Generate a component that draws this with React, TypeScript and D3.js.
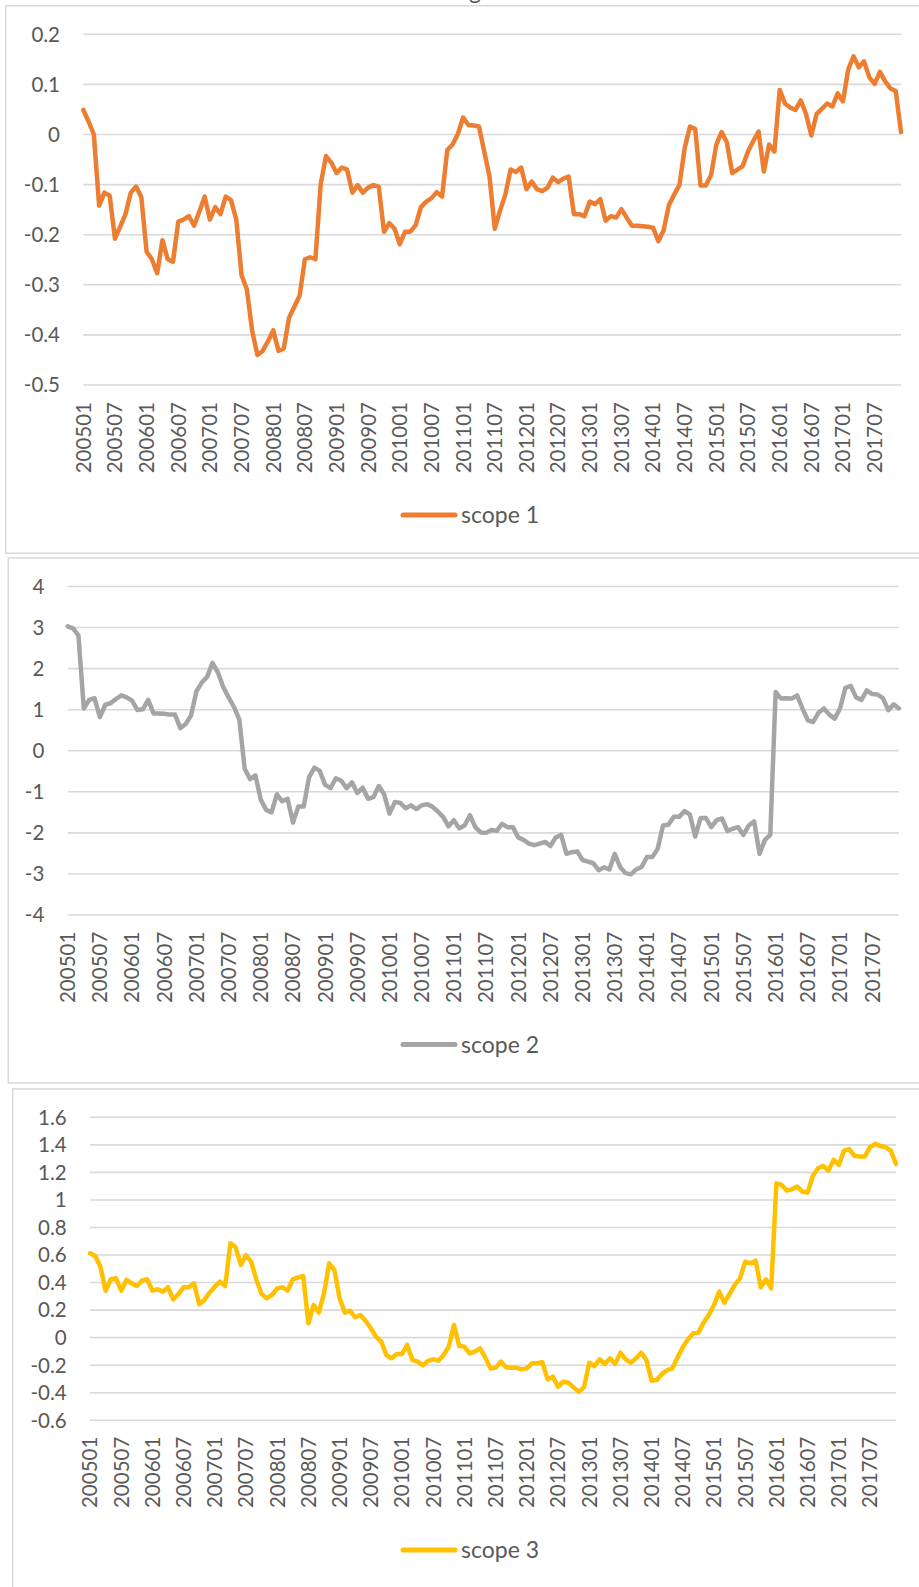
import React from "react";
import * as d3 from "d3";

const width = 919;
const height = 1587;

// categories: monthly, 200501 .. 201712
const months: string[] = [];
d3.range(2005, 2018).forEach((y) => {
  d3.range(1, 13).forEach((m) => months.push(`${y}${m < 10 ? "0" + m : m}`));
});

const tickLabels = [
  "200501", "200507", "200601", "200607", "200701", "200707", "200801", "200807",
  "200901", "200907", "201001", "201007", "201101", "201107", "201201", "201207",
  "201301", "201307", "201401", "201407", "201501", "201507", "201601", "201607",
  "201701", "201707",
];

const scope1 = [
  0.049, 0.026, 0.0, -0.142, -0.116, -0.122, -0.208, -0.184, -0.159, -0.116,
  -0.104, -0.125, -0.234, -0.249, -0.277, -0.211, -0.249, -0.254, -0.174, -0.17,
  -0.163, -0.182, -0.154, -0.124, -0.17, -0.145, -0.159, -0.124, -0.131, -0.17,
  -0.281, -0.309, -0.391, -0.44, -0.432, -0.413, -0.391, -0.432, -0.427, -0.366,
  -0.344, -0.322, -0.249, -0.245, -0.249, -0.099, -0.043, -0.056, -0.077, -0.066,
  -0.07, -0.116, -0.101, -0.116, -0.106, -0.101, -0.104, -0.194, -0.177, -0.188,
  -0.219, -0.194, -0.194, -0.181, -0.145, -0.134, -0.127, -0.115, -0.124, -0.031,
  -0.02, 0.001, 0.034, 0.019, 0.018, 0.016, -0.034, -0.084, -0.188, -0.152,
  -0.12, -0.07, -0.075, -0.066, -0.109, -0.094, -0.109, -0.113, -0.106, -0.086,
  -0.095, -0.088, -0.084, -0.159, -0.159, -0.163, -0.134, -0.139, -0.129, -0.172,
  -0.163, -0.166, -0.149, -0.166, -0.182, -0.182, -0.183, -0.184, -0.186, -0.213,
  -0.191, -0.141, -0.12, -0.101, -0.027, 0.016, 0.011, -0.102, -0.102, -0.081,
  -0.02, 0.005, -0.016, -0.077, -0.07, -0.063, -0.034, -0.013, 0.006, -0.074,
  -0.02, -0.034, 0.089, 0.062, 0.054, 0.049, 0.068, 0.041, -0.002, 0.041,
  0.051, 0.062, 0.056, 0.082, 0.066, 0.13, 0.156, 0.134, 0.146, 0.114,
  0.101, 0.125, 0.106, 0.092, 0.087, 0.005,
];

const scope2 = [
  3.03, 2.98, 2.81, 1.03, 1.24, 1.28, 0.82, 1.12, 1.16, 1.26,
  1.35, 1.3, 1.22, 0.99, 1.01, 1.24, 0.91, 0.91, 0.9, 0.88,
  0.88, 0.55, 0.65, 0.86, 1.45, 1.66, 1.8, 2.14, 1.91, 1.55,
  1.3, 1.07, 0.76, -0.44, -0.69, -0.6, -1.19, -1.44, -1.5, -1.06,
  -1.23, -1.17, -1.75, -1.36, -1.36, -0.65, -0.41, -0.49, -0.83, -0.91,
  -0.67, -0.73, -0.91, -0.77, -1.03, -0.9, -1.17, -1.13, -0.86, -1.06,
  -1.53, -1.25, -1.27, -1.4, -1.33, -1.42, -1.33, -1.3, -1.36, -1.48,
  -1.61, -1.84, -1.69, -1.89, -1.82, -1.57, -1.86, -1.99, -2.0, -1.93,
  -1.95, -1.78, -1.86, -1.86, -2.11, -2.17, -2.26, -2.3, -2.26, -2.22,
  -2.32, -2.11, -2.05, -2.51, -2.47, -2.45, -2.66, -2.7, -2.74, -2.91,
  -2.84, -2.89, -2.51, -2.83, -2.98, -3.01, -2.89, -2.83, -2.59, -2.59,
  -2.39, -1.82, -1.8, -1.61, -1.61, -1.47, -1.55, -2.09, -1.64, -1.64,
  -1.86, -1.69, -1.65, -1.95, -1.9, -1.86, -2.05, -1.82, -1.72, -2.51,
  -2.17, -2.05, 1.43, 1.27, 1.28, 1.27, 1.35, 1.03, 0.74, 0.7,
  0.93, 1.03, 0.88, 0.78, 1.03, 1.53, 1.58, 1.3, 1.24, 1.47,
  1.38, 1.37, 1.28, 0.99, 1.13, 1.03,
];

const scope3 = [
  0.613, 0.593, 0.516, 0.341, 0.424, 0.431, 0.341, 0.419, 0.395, 0.375,
  0.414, 0.424, 0.341, 0.351, 0.334, 0.366, 0.278, 0.317, 0.366, 0.366,
  0.395, 0.242, 0.274, 0.327, 0.37, 0.407, 0.375, 0.685, 0.656, 0.528,
  0.6, 0.552, 0.419, 0.317, 0.286, 0.31, 0.358, 0.366, 0.341, 0.424,
  0.438, 0.448, 0.104, 0.237, 0.182, 0.322, 0.54, 0.492, 0.286, 0.182,
  0.196, 0.148, 0.165, 0.123, 0.068, 0.007, -0.029, -0.126, -0.15, -0.119,
  -0.119, -0.053, -0.162, -0.174, -0.201, -0.169, -0.157, -0.167, -0.126, -0.065,
  0.092, -0.06, -0.065, -0.114, -0.102, -0.077, -0.143, -0.223, -0.218, -0.174,
  -0.215, -0.218, -0.218, -0.23, -0.223, -0.186, -0.186, -0.179, -0.303, -0.283,
  -0.356, -0.32, -0.327, -0.361, -0.392, -0.361, -0.182, -0.206, -0.157, -0.191,
  -0.15, -0.191, -0.109, -0.157, -0.182, -0.15, -0.109, -0.162, -0.312, -0.308,
  -0.264, -0.235, -0.223, -0.143, -0.07, -0.012, 0.031, 0.036, 0.109, 0.165,
  0.237, 0.334, 0.254, 0.317, 0.383, 0.431, 0.552, 0.54, 0.559, 0.366,
  0.424, 0.358, 1.121, 1.109, 1.068, 1.077, 1.097, 1.061, 1.053, 1.174,
  1.23, 1.247, 1.213, 1.291, 1.254, 1.358, 1.368, 1.32, 1.315, 1.315,
  1.383, 1.407, 1.392, 1.383, 1.358, 1.262,
];

const ticks1 = [0.2, 0.1, 0, -0.1, -0.2, -0.3, -0.4, -0.5];
const ticks2 = [4, 3, 2, 1, 0, -1, -2, -3, -4];
const ticks3 = [1.6, 1.4, 1.2, 1, 0.8, 0.6, 0.4, 0.2, 0, -0.2, -0.4, -0.6];

const FONT = "Lato, 'Open Sans', sans-serif";
const TEXT = "#595959";
const GRID = "#d9d9d9";

type PanelProps = {
  values: number[];
  ticks: number[];
  name: string;
  color: string;
  box: { x: number; y: number; h: number };
  plot: { x0: number; x1: number; y0: number; y1: number };
  labelRight: number;
  xLabelTop: number;
  legendY: number;
};

function Panel({ values, ticks, name, color, box, plot, labelRight, xLabelTop, legendY }: PanelProps) {
  const x = d3.scaleLinear().domain([0, months.length - 1]).range([plot.x0, plot.x1]);
  const y = d3
    .scaleLinear()
    .domain([d3.max(ticks)!, d3.min(ticks)!])
    .range([plot.y0, plot.y1]);
  const path = d3
    .line<number>()
    .x((_, i) => x(i))
    .y((d) => y(d))(values);

  return (
    <g>
      <path
        d={`M${width + 5},${box.y} H${box.x} V${box.y + box.h} H${width + 5}`}
        fill="white"
        stroke={GRID}
        strokeWidth={1.5}
      />
      {ticks.map((t) => (
        <g key={t}>
          <line x1={plot.x0} x2={plot.x1} y1={y(t)} y2={y(t)} stroke={GRID} strokeWidth={1.6} />
          <text
            x={labelRight}
            y={y(t)}
            dy="0.36em"
            textAnchor="end"
            fontSize={20.5}
            fill={TEXT}
            fontFamily={FONT}
          >
            {String(t)}
          </text>
        </g>
      ))}
      <path d={path ?? ""} fill="none" stroke={color} strokeWidth={4.5} strokeLinejoin="round" strokeLinecap="round" />
      {tickLabels.map((lab) => {
        const xi = x(months.indexOf(lab));
        return (
          <text
            key={lab}
            transform={`translate(${xi},${xLabelTop}) rotate(-90)`}
            dy="0.36em"
            textAnchor="end"
            fontSize={20.5}
            fill={TEXT}
            fontFamily={FONT}
          >
            {lab}
          </text>
        );
      })}
      <line x1={403} x2={455} y1={legendY} y2={legendY} stroke={color} strokeWidth={5} strokeLinecap="round" />
      <text x={461} y={legendY} dy="0.36em" fontSize={23} fill={TEXT} fontFamily={FONT}>
        {name}
      </text>
    </g>
  );
}

export default function App() {
  return (
    <svg
      width={width}
      height={height}
      style={{ position: "absolute", left: 0, top: 0, background: "white" }}
    >
      <rect width={width} height={height} fill="white" />
      <Panel
        values={scope1}
        ticks={ticks1}
        name="scope 1"
        color="#ED7D31"
        box={{ x: 5.7, y: 5.7, h: 547.5 }}
        plot={{ x0: 83.3, x1: 901, y0: 34.3, y1: 385 }}
        labelRight={60}
        xLabelTop={402}
        legendY={515}
      />
      <text x={469} y={-1} fontSize={23} fill={TEXT} fontFamily={FONT}>
        g
      </text>
      <Panel
        values={scope2}
        ticks={ticks2}
        name="scope 2"
        color="#A5A5A5"
        box={{ x: 8.3, y: 558, h: 525 }}
        plot={{ x0: 67.7, x1: 899, y0: 586.5, y1: 915 }}
        labelRight={44.3}
        xLabelTop={931.7}
        legendY={1044.5}
      />
      <Panel
        values={scope3}
        ticks={ticks3}
        name="scope 3"
        color="#FFC000"
        box={{ x: 12.7, y: 1089, h: 520 }}
        plot={{ x0: 90, x1: 896, y0: 1117.3, y1: 1420.3 }}
        labelRight={66.7}
        xLabelTop={1436.7}
        legendY={1550}
      />
    </svg>
  );
}
